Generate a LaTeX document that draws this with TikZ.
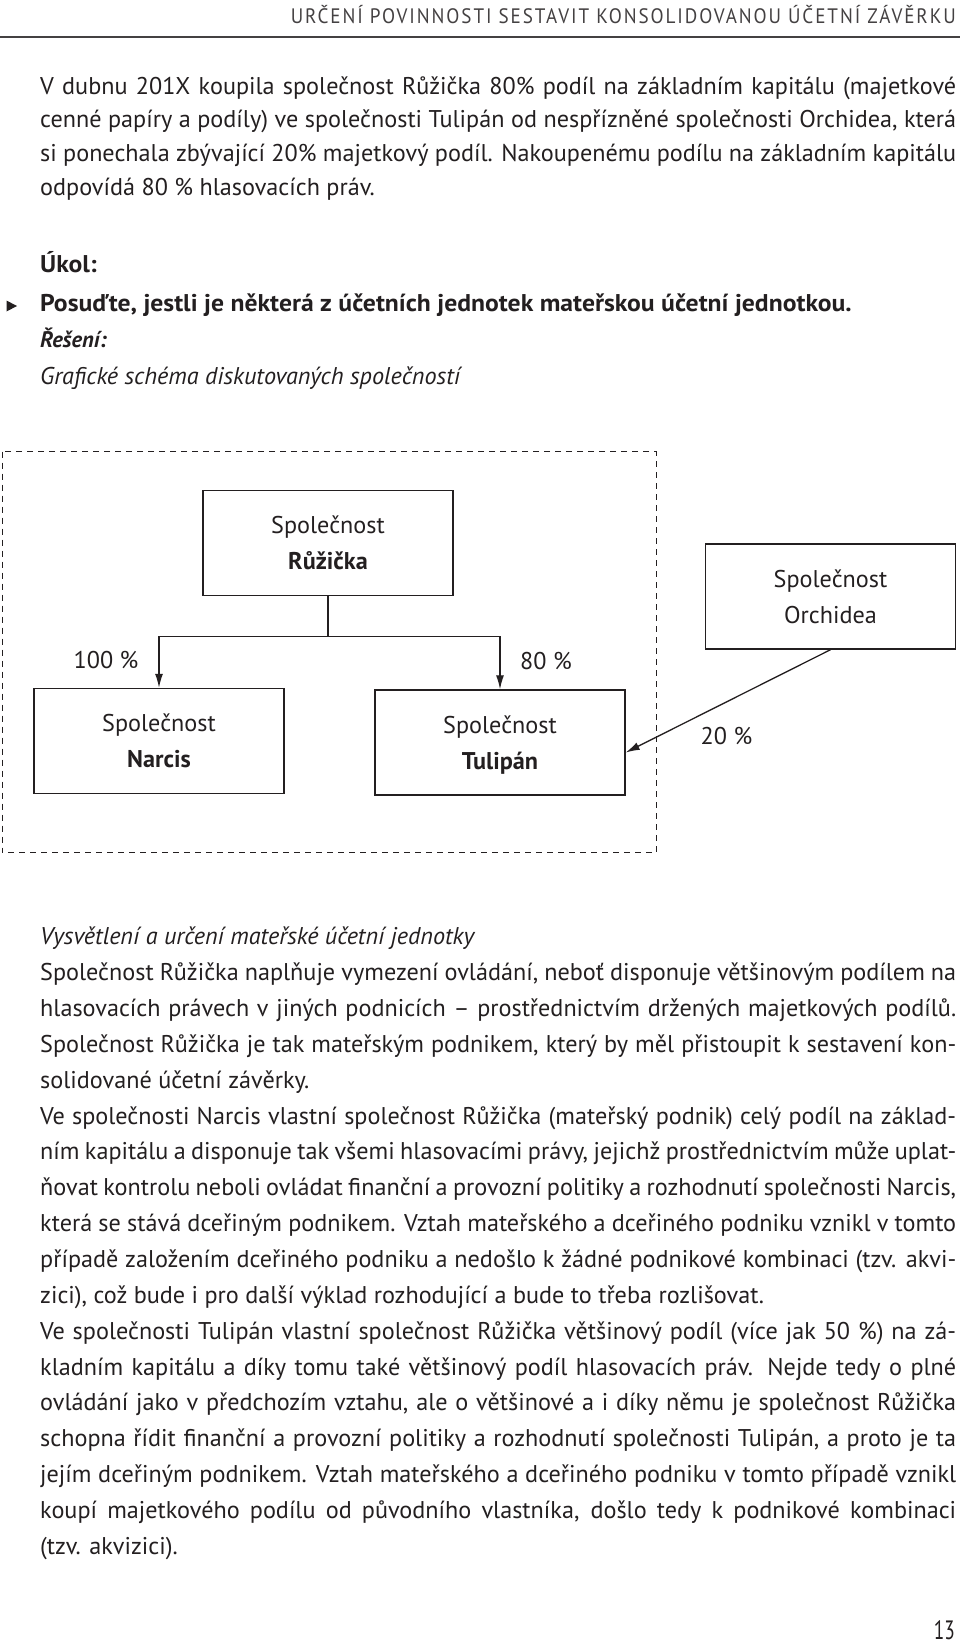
\documentclass[tikz,border=0pt]{standalone}
\usepackage{fontspec}
\setmainfont{PT Sans}
\usepackage{graphicx}
\usepackage{xcolor}
\usetikzlibrary{arrows.meta, calc}
\hbadness=10000
\hfuzz=200pt

\definecolor{ink}{HTML}{231F20}
\newlength{\pagetextw}
\setlength{\pagetextw}{916pt}
\newcommand{\fullrow}[1]{\hbox to \pagetextw{#1}}
\newcommand{\lastrow}[1]{\hbox{#1}}
\newcommand{\bodysize}{\fontsize{24.2}{35.86}\selectfont}
\newcommand{\introsize}{\fontsize{24.2}{33.9}\selectfont}
\newcommand{\widebold}[1]{{\bfseries\addfontfeatures{FakeStretch=1.06}#1}}

\tikzset{
  body/.style={anchor=base west, inner sep=0pt, font=\bodysize},
  firm/.style={draw=ink, line width=1.4pt, minimum width=250pt, minimum height=105pt,
               inner sep=0pt, align=center, font=\fontsize{24.2}{36}\selectfont},
  share/.style={inner sep=0pt, font=\fontsize{24.2}{28}\selectfont},
  own/.style={-{Latex[length=14pt,width=8pt]}, line width=1.3pt, draw=ink},
  link/.style={line width=1.3pt, draw=ink},
  groupbox/.style={draw=ink, line width=0.9pt, dash pattern=on 6pt off 5pt}
}

\begin{document}
\begin{tikzpicture}[x=1pt, y=-1pt, color=ink]
  \useasboundingbox (0,0) rectangle (960,1644);

  % running head
  \node[anchor=base east, inner sep=0pt, text=ink!85] (head) at (956,23)
    {\resizebox{665pt}{\height}{\fontsize{20.9}{20.9}\selectfont\addfontfeatures{LetterSpace=10}URČENÍ POVINNOSTI SESTAVIT KONSOLIDOVANOU ÚČETNÍ ZÁVĚRKU}};
  \draw[line width=2pt, ink!85] (0,37) -- (960,37);

  % zadani
  \node[body, font=\introsize] (intro) at (40,94) {\vtop{%
    \fullrow{V dubnu 201X koupila společnost Růžička 80\% podíl na základním kapitálu (majetkové}
    \fullrow{cenné papíry a podíly) ve společnosti Tulipán od nespřízněné společnosti Orchidea, která}
    \fullrow{si ponechala zbývající 20\% majetkový podíl. Nakoupenému podílu na základním kapitálu}
    \lastrow{odpovídá 80 \% hlasovacích práv.}}};

  \node[body] (ukol) at (40,272) {\widebold{Úkol:}};
  \fill (6.5,300.5) -- (17,306) -- (6.5,311.5) -- cycle;
  \node[body] (posudte) at (40,311) {\widebold{Posuďte, jestli je některá z účetních jednotek mateřskou účetní jednotkou.}};
  \node[body, font=\fontsize{22.5}{30}\selectfont] (reseni) at (40,347) {\textbf{\textit{Řešení:}}};
  \node[body] (schema) at (40,384) {\textit{Grafické schéma diskutovaných společností}};

  % schema
  \draw[groupbox] (2,451.7) rectangle (656,852.7);
  \node[firm] (ruz) at (328,543) {Společnost\\\textbf{Růžička}};
  \node[firm] (nar) at (159,741) {Společnost\\\textbf{Narcis}};
  \node[firm] (tul) at (500,742.5) {Společnost\\\raisebox{0pt}[\height][0pt]{\textbf{Tulipán}}};
  \node[firm] (orch) at (830.5,596.5) {Společnost\\Orchidea};

  \draw[link] (ruz.south) -- ++(0,40) coordinate (fork);
  \draw[own] (fork) -| (nar.north);
  \draw[own] (fork) -| (tul.north);
  \draw[own] (orch.south) -- ([yshift=-10pt]tul.east);

  \node[share] (p100) at (106,660) {100~\%};
  \node[share] (p80) at (546,661) {80~\%};
  \node[share] (p20) at (726.5,736) {20~\%};

  % vysvetleni
  \node[body] (expl) at (40,944.8) {\vtop{%
    \lastrow{\textit{Vysvětlení a určení mateřské účetní jednotky}}
    \fullrow{Společnost Růžička naplňuje vymezení ovládání, neboť disponuje většinovým podílem na}
    \fullrow{hlasovacích právech v jiných podnicích – prostřednictvím držených majetkových podílů.}
    \fullrow{Společnost Růžička je tak mateřským podnikem, který by měl přistoupit k sestavení kon-}
    \lastrow{solidované účetní závěrky.}
    \fullrow{Ve společnosti Narcis vlastní společnost Růžička (mateřský podnik) celý podíl na základ-}
    \fullrow{ním kapitálu a disponuje tak všemi hlasovacími právy, jejichž prostřednictvím může uplat-}
    \fullrow{ňovat kontrolu neboli ovládat finanční a provozní politiky a rozhodnutí společnosti Narcis,}
    \fullrow{která se stává dceřiným podnikem. Vztah mateřského a dceřiného podniku vznikl v tomto}
    \fullrow{případě založením dceřiného podniku a nedošlo k žádné podnikové kombinaci (tzv. akvi-}
    \lastrow{zici), což bude i pro další výklad rozhodující a bude to třeba rozlišovat.}
    \fullrow{Ve společnosti Tulipán vlastní společnost Růžička většinový podíl (více jak 50 \%) na zá-}
    \fullrow{kladním kapitálu a díky tomu také většinový podíl hlasovacích práv. Nejde tedy o plné}
    \fullrow{ovládání jako v předchozím vztahu, ale o většinové a i díky němu je společnost Růžička}
    \fullrow{schopna řídit finanční a provozní politiky a rozhodnutí společnosti Tulipán, a proto je ta}
    \fullrow{jejím dceřiným podnikem. Vztah mateřského a dceřiného podniku v tomto případě vznikl}
    \fullrow{koupí majetkového podílu od původního vlastníka, došlo tedy k podnikové kombinaci}
    \lastrow{(tzv. akvizici).}}};

  \node[anchor=base east, inner sep=0pt] (folio) at (955,1639)
    {\resizebox{21pt}{\height}{\fontsize{26.5}{26.5}\selectfont 13}};
\end{tikzpicture}
\end{document}
